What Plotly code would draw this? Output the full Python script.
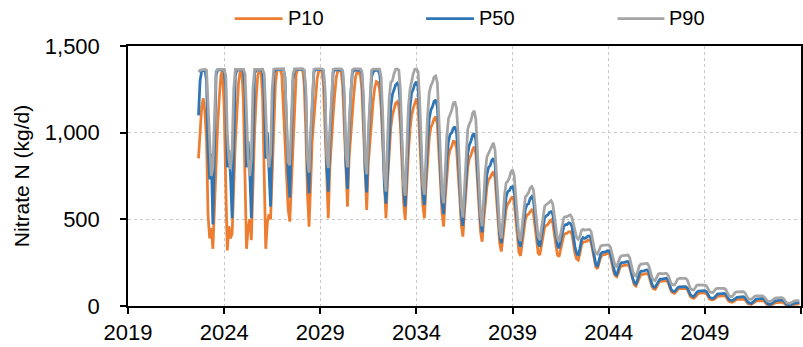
import plotly.graph_objects as go
import pandas as pd

# Monthly series starting September 2022 (kg/d)
start_month = "2022-09-01"

p10 = [
    852, 1000, 1150, 1198,
    1120, 950, 530, 390, 450, 330, 600, 850, 1050, 1200, 1330, 1362,
    1150, 700, 320, 460, 390, 420, 700, 950, 1120, 1290, 1355, 1362,
    1180, 750, 330, 450, 500, 380, 720, 1000, 1200, 1330, 1360, 1364,
    1200, 750, 330, 480, 530, 500, 800, 1080, 1280, 1360, 1365, 1365,
    1330, 1150, 950, 750, 560, 487, 700, 950, 1200, 1340, 1365, 1366,
    1366, 1360, 1280, 1000, 650, 458, 780, 960, 1080, 1200, 1310, 1355,
    1362, 1355, 1280, 1020, 700, 506, 800, 980, 1100, 1220, 1320, 1358,
    1360, 1350, 1270, 1030, 760, 573, 850, 1000, 1120, 1230, 1320, 1352,
    1345, 1330, 1250, 1000, 740, 554, 820, 960, 1080, 1180, 1260, 1295,
    1290, 1250, 1150, 900, 650, 506, 720, 900, 1030, 1100, 1140, 1170,
    1179, 1150, 1050, 800, 600, 497, 700, 880, 1020, 1100, 1140, 1175,
    1198, 1150, 1000, 780, 580, 506, 690, 850, 970, 1030, 1050, 1080,
    1092, 1050, 920, 720, 540, 458, 620, 770, 860, 900, 920, 950,
    948, 910, 800, 630, 470, 400, 540, 690, 800, 850, 870, 900,
    919, 880, 760, 580, 430, 371, 490, 600, 690, 730, 740, 760,
    775, 740, 630, 480, 360, 314, 400, 500, 560, 590, 600, 620,
    631, 600, 510, 390, 310, 289, 360, 440, 500, 525, 530, 545,
    554, 535, 460, 370, 305, 294, 350, 420, 455, 465, 470, 485,
    496, 480, 420, 340, 295, 285, 330, 380, 410, 418, 420, 428,
    429, 415, 360, 300, 272, 265, 300, 350, 370, 370, 372, 380,
    381, 365, 315, 260, 225, 215, 245, 280, 295, 295, 297, 303,
    304, 290, 245, 200, 175, 169, 190, 222, 232, 232, 234, 237,
    237, 222, 185, 145, 122, 115, 135, 165, 180, 182, 184, 188,
    188, 175, 145, 112, 99, 96, 110, 132, 142, 142, 144, 146,
    146, 136, 110, 85, 76, 73, 82, 95, 100, 100, 101, 102,
    102, 95, 74, 54, 47, 44, 52, 65, 72, 74, 76, 77,
    77, 71, 55, 40, 36, 35, 40, 50, 56, 57, 58, 60,
    60, 55, 40, 27, 23, 21, 26, 34, 38, 38, 39, 40,
    40, 35, 23, 13, 11, 10, 15, 24, 28, 29, 30, 31,
    31, 27, 16, 7, 5, 4, 8, 15, 19, 20, 22, 23,
    23, 19, 10, 3, 1, 0, 4, 8, 10, 11, 12, 12,
]

p50 = [
    1100, 1300, 1355, 1360,
    1362, 1300, 900, 730, 880, 470, 950, 1330, 1362, 1362, 1362, 1362,
    1362, 1250, 800, 900, 750, 506, 950, 1330, 1362, 1362, 1362, 1362,
    1362, 1250, 800, 950, 780, 506, 950, 1340, 1362, 1362, 1362, 1362,
    1362, 1220, 850, 1000, 800, 573, 1000, 1340, 1364, 1365, 1365, 1365,
    1366, 1366, 1320, 1050, 760, 625, 1000, 1300, 1365, 1366, 1366, 1366,
    1366, 1366, 1355, 1200, 800, 650, 950, 1200, 1350, 1364, 1364, 1364,
    1364, 1364, 1355, 1200, 820, 660, 950, 1200, 1345, 1362, 1362, 1362,
    1362, 1362, 1350, 1180, 830, 675, 980, 1220, 1340, 1360, 1362, 1362,
    1362, 1360, 1340, 1150, 800, 655, 950, 1180, 1320, 1350, 1358, 1360,
    1358, 1340, 1250, 1000, 700, 590, 800, 1000, 1150, 1220, 1250, 1275,
    1285, 1270, 1150, 900, 680, 573, 800, 1000, 1150, 1230, 1250, 1280,
    1294, 1260, 1100, 850, 650, 583, 780, 950, 1080, 1130, 1150, 1180,
    1189, 1150, 1000, 780, 600, 530, 700, 850, 950, 990, 1000, 1025,
    1035, 1000, 880, 700, 530, 463, 620, 780, 880, 930, 950, 985,
    996, 960, 840, 650, 490, 425, 560, 680, 760, 800, 810, 840,
    852, 820, 700, 540, 410, 362, 450, 560, 630, 660, 665, 685,
    689, 660, 570, 450, 370, 342, 420, 510, 560, 585, 590, 620,
    631, 610, 530, 430, 360, 342, 400, 470, 510, 520, 525, 540,
    544, 530, 470, 400, 350, 333, 380, 430, 460, 470, 470, 480,
    477, 460, 400, 340, 305, 290, 330, 380, 395, 390, 395, 403,
    404, 390, 340, 280, 240, 227, 260, 300, 310, 310, 312, 318,
    319, 305, 260, 210, 185, 179, 205, 240, 250, 250, 252, 256,
    256, 240, 200, 160, 135, 127, 150, 185, 200, 200, 202, 207,
    208, 195, 160, 125, 110, 108, 125, 145, 155, 155, 157, 160,
    160, 150, 120, 95, 85, 83, 92, 105, 110, 110, 111, 112,
    112, 105, 85, 65, 57, 54, 65, 80, 86, 86, 88, 89,
    89, 83, 65, 50, 45, 44, 50, 62, 70, 70, 72, 73,
    73, 68, 52, 38, 33, 31, 36, 45, 50, 51, 53, 54,
    54, 48, 35, 22, 17, 15, 22, 33, 40, 41, 43, 44,
    44, 38, 25, 14, 11, 10, 16, 25, 30, 31, 33, 35,
    35, 30, 18, 10, 7, 6, 9, 14, 17, 18, 19, 19,
]

p90 = [
    1350, 1360, 1362, 1362,
    1365, 1360, 1150, 880, 750, 800, 1100, 1355, 1365, 1365, 1365, 1365,
    1365, 1330, 1000, 850, 790, 900, 1250, 1365, 1365, 1365, 1365, 1365,
    1365, 1340, 1050, 850, 750, 850, 1250, 1365, 1365, 1365, 1365, 1365,
    1365, 1340, 1100, 880, 800, 880, 1250, 1366, 1368, 1368, 1368, 1368,
    1368, 1368, 1320, 1080, 830, 813, 1100, 1340, 1368, 1368, 1368, 1368,
    1368, 1368, 1362, 1250, 850, 770, 1000, 1200, 1365, 1368, 1368, 1368,
    1368, 1368, 1362, 1250, 870, 795, 1020, 1230, 1365, 1368, 1368, 1368,
    1368, 1368, 1360, 1240, 880, 800, 1050, 1250, 1362, 1368, 1368, 1368,
    1368, 1368, 1355, 1220, 850, 760, 1000, 1220, 1360, 1366, 1366, 1366,
    1366, 1366, 1320, 1100, 760, 660, 950, 1200, 1290, 1300, 1340, 1366,
    1367, 1360, 1250, 960, 700, 636, 900, 1150, 1250, 1300, 1340, 1366,
    1367, 1350, 1200, 950, 700, 641, 880, 1100, 1230, 1270, 1290, 1320,
    1327, 1290, 1100, 850, 660, 593, 800, 980, 1080, 1100, 1130, 1170,
    1179, 1140, 1000, 780, 580, 510, 700, 900, 1020, 1050, 1070, 1110,
    1127, 1080, 940, 720, 530, 460, 620, 780, 860, 880, 900, 930,
    942, 900, 780, 600, 440, 390, 500, 640, 710, 720, 740, 775,
    785, 750, 640, 500, 400, 375, 460, 570, 630, 640, 655, 680,
    689, 670, 590, 480, 400, 381, 450, 530, 575, 585, 590, 600,
    608, 590, 530, 450, 390, 371, 420, 480, 510, 515, 515, 522,
    525, 510, 470, 420, 395, 385, 400, 435, 442, 438, 440, 442,
    442, 430, 380, 330, 305, 300, 320, 345, 350, 350, 350, 352,
    352, 340, 300, 255, 232, 227, 250, 280, 290, 290, 292, 294,
    294, 280, 240, 200, 178, 173, 195, 230, 242, 242, 244, 246,
    246, 232, 200, 165, 150, 146, 165, 185, 188, 185, 186, 188,
    188, 178, 155, 130, 123, 121, 135, 155, 160, 158, 159, 160,
    160, 150, 125, 100, 94, 92, 105, 120, 122, 120, 120, 121,
    121, 115, 98, 82, 78, 77, 88, 100, 102, 100, 101, 102,
    102, 95, 78, 60, 55, 54, 65, 78, 82, 82, 83, 83,
    83, 76, 58, 43, 39, 38, 46, 55, 58, 58, 58, 58,
    58, 52, 40, 29, 26, 25, 32, 42, 46, 47, 47, 48,
    48, 43, 30, 19, 16, 15, 20, 27, 30, 31, 31, 31,
]

series_names = ["P10", "P50", "P90"]
series_colors = ["#ED7D31", "#2E75B6", "#A5A5A5"]
series_values = [p10, p50, p90]

dates = pd.date_range(start_month, periods=len(p50), freq="MS")

W, H = 803, 347
ML, MR, MT, MB = 128, 0, 46, 41
PW, PH = W - ML - MR, H - MT - MB


def px_x(px):
    return (px - ML) / PW


def px_y(py):
    return (H - MB - py) / PH


FONT = "Liberation Sans, Arial, sans-serif"

fig = go.Figure()
for name, vals, color in zip(series_names, series_values, series_colors):
    fig.add_trace(go.Scatter(
        x=dates, y=vals, mode="lines", name=name,
        line=dict(color=color, width=2.75), showlegend=False,
    ))

# Manual legend (line samples + labels) placed above the plot
legend_line_x = [(235, 283), (427, 475), (619, 666)]
legend_y = 18.5
shapes = []
annotations = []
for (x0, x1), name, color in zip(legend_line_x, series_names, series_colors):
    shapes.append(dict(type="line", xref="paper", yref="paper",
                       x0=px_x(x0), x1=px_x(x1), y0=px_y(legend_y), y1=px_y(legend_y),
                       line=dict(color=color, width=2.75)))
    annotations.append(dict(text=name, xref="paper", yref="paper",
                            x=px_x(x1 + 3), y=px_y(legend_y), xanchor="left", yanchor="middle",
                            showarrow=False, font=dict(family=FONT, size=20, color="black")))

fig.update_layout(
    width=W, height=H,
    margin=dict(l=ML, r=MR, t=MT, b=MB),
    paper_bgcolor="white", plot_bgcolor="white",
    font=dict(family=FONT, color="black"),
    shapes=shapes, annotations=annotations,
    showlegend=False,
)

fig.update_xaxes(
    type="date",
    range=["2019-01-01", "2053-12-31"],
    tick0="2019-01-01", dtick="M60", tickformat="%Y",
    showline=True, linecolor="black", linewidth=1.5, mirror=True,
    ticks="outside", ticklen=6, tickcolor="black", tickwidth=1.5,
    showgrid=True, gridcolor="#C8C8C8", griddash="dot", gridwidth=1,
    tickfont=dict(family=FONT, size=22, color="black"),
    zeroline=False,
)
fig.update_yaxes(
    range=[0, 1500], dtick=500, tickformat=",",
    showline=True, linecolor="black", linewidth=1.5, mirror=True,
    ticks="outside", ticklen=6, tickcolor="black", tickwidth=1.5,
    showgrid=True, gridcolor="#C8C8C8", griddash="dot", gridwidth=1,
    tickfont=dict(family=FONT, size=22, color="black"),
    ticklabelstandoff=16,
    title=dict(text="Nitrate N (kg/d)", font=dict(family=FONT, size=21, color="black"), standoff=9),
    zeroline=False,
)

fig.write_html(
    "out.html",
    config={"displayModeBar": False},
    post_script="document.body.style.margin='0';document.body.style.padding='0';document.body.style.overflow='hidden';",
)
